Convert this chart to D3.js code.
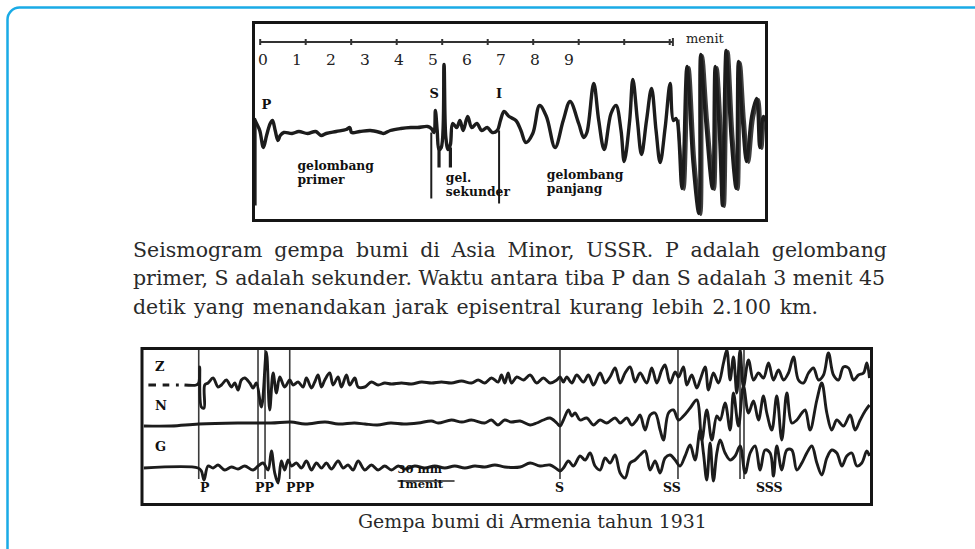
<!DOCTYPE html>
<html><head><meta charset="utf-8">
<script src="https://cdn.jsdelivr.net/npm/d3@7"></script>
<style>body{margin:0;background:#fff;}svg{display:block;}</style>
</head><body>
<svg id="c" width="975" height="549"></svg>
<script>
// ---------------- DATA ----------------
// Top seismogram (Asia Minor): time in minutes, amplitude in arbitrary units (up = +)
const scaleMinutes = [0,1,2,3,4,5,6,7,8,9];
const scaleLabels = ["0","1","2","3","4","5","6","7","8","9"];
const scaleEnd = 9.07;
const traceTop = [
 [-0.13,12],[-0.08,7],[-0.01,0],[0.07,-17],[0.14,-5],[0.22,7],[0.27,10],[0.33,0],[0.39,-10],[0.44,-5],
 [0.52,-2],[0.70,-3],[0.85,-1],[1.04,-3],[1.22,-1],[1.34,-5],[1.45,-3],[1.67,-1],[1.89,1],[1.97,3],
 [2.01,-2],[2.19,-1],[2.42,0],[2.64,-2],[2.71,-3],[2.86,0],[3.09,2],[3.31,3],[3.46,3],[3.68,4],
 [3.76,2],[3.82,-2],[3.85,20],[3.89,0],[3.93,-19],[3.98,-17],[4.04,66],[4.08,-7],[4.13,-19],[4.18,-14],
 [4.23,7],[4.32,3],[4.39,10],[4.46,0],[4.56,14],[4.65,3],[4.76,7],[4.87,0],[4.99,3],[5.10,-2],
 [5.21,0],[5.28,10],[5.36,19],[5.47,14],[5.62,10],[5.73,0],[5.84,-12],[5.99,-3],[6.14,25],[6.29,14],
 [6.48,-17],[6.66,10],[6.81,29],[7.00,7],[7.11,-7],[7.18,-2],[7.33,47],[7.44,10],[7.56,-19],[7.71,17],
 [7.82,25],[7.93,0],[8.00,-31],[8.12,10],[8.19,51],[8.29,10],[8.38,-24],[8.49,10],[8.60,42],[8.70,0],
 [8.79,-32],[8.90,3],[9.01,47],[9.08,10],[9.14,12],[9.27,-58],[9.38,64],[9.51,-31],[9.64,-83],[9.68,76],
 [9.79,10],[9.94,-58],[10.00,64],[10.10,-10],[10.16,-75],[10.24,80],[10.35,-7],[10.46,-58],[10.51,69],[10.60,10],
 [10.69,-31],[10.80,14],[10.91,32],[10.98,-17],[11.06,14],[11.17,3]
];
// vertical strokes on the top record: [time, from amp, to amp]
const topStrokes = [[-0.10,7,-75],[3.76,-2,-68],[5.25,0,-73]];
const topBars = [[3.93,-17,-37],[4.18,-17,-37]];
const topPhaseLabels = ["P","S","I"];
const topPhaseX = [0.03,3.72,5.18];
const topPhaseAmp = [22,33,33];
const topNotes = [["gelombang","primer"],["gel.","sekunder"],["gelombang","panjang"]];
const topNoteX = [0.82,4.08,6.30];
const topNoteAmp = [-39,-51,-48];

// Bottom seismogram (Armenia 1931): time in seconds from P arrival
const channels = ["Z","N","G"];
const zDashes = [[-53,-45],[-38,-31],[-24,-21]];
const traceZ = [
 [-15,0],[-2.5,0],[0,2],[1,18],[2.8,-22],[5.6,-23],[6.3,0],[9.8,2],[15.1,7],[20.3,-2],[23.9,0],[29.1,5],
 [34.4,-2],[37.9,2],[41.4,-5],[44.9,5],[48.4,7],[53.7,2],[57.2,-3],[60.7,2],[66,-22],[71.2,33],[74.7,-25],
 [78.3,12],[81.8,-8],[85.3,8],[90.5,-2],[95.8,5],[99.3,0],[104.6,3],[109.8,-2],[113.4,7],[118.6,-3],[122.1,3],
 [125.6,10],[129.2,-2],[132.7,5],[137.9,12],[141.4,0],[146.7,8],[150.2,-2],[155.5,10],[159,0],[164.3,7],
 [167.8,-2],[174.8,-2],[181.8,3],[188.8,0],[195.8,2],[202.9,1],[213.4,2],[223.9,1],[234.5,3],[245,2],
 [255.5,3],[266,2],[276.6,4],[287.1,2],[294.1,5],[301.1,2],[308.2,7],[315.2,3],[318.7,10],[322.2,2],
 [325.7,12],[329.2,2],[334.8,8],[341.8,5],[348.8,10],[355.8,2],[362.8,7],[369.9,2],[376.9,5],[380.4,8],
 [383.9,3],[387.4,8],[392.7,2],[397.9,10],[404.9,3],[410.2,10],[415.5,0],[422.5,12],[427.8,2],[433,8],
 [438.3,17],[443.6,2],[448.8,12],[454.1,18],[459.4,3],[464.6,12],[471.6,2],[476.9,17],[482.2,2],[487.4,15],
 [490.9,20],[496.2,2],[501.5,13],[505,8],[510.3,18],[513.8,0],[519,10],[524.3,-3],[527.8,5],[533.1,18],
 [536.6,-5],[541.8,12],[547.1,2],[552.4,22],[555.9,35],[559.4,5],[562.9,28],[566.4,-8],[569.9,35],[573.4,-2],
 [578.7,25],[584,5],[589.2,12],[594.5,7],[599.8,22],[605,5],[610.3,15],[615.6,5],[620.8,12],[626.1,28],
 [631.3,5],[636.6,2],[641.9,12],[647.1,17],[652.4,5],[657.7,10],[662.9,32],[668.2,10],[673.5,5],[678.7,18],
 [684,17],[689.3,5],[694.5,10],[699.8,12],[703.3,22],[706.1,7]
];
const traceN = [
 [-58,-2],[-29,-2],[0,0],[41,1],[76,1],[97,2],[112,0],[133,2],[147,0],[164,1],[175,0],[188,-1],[202,1],
 [216,0],[231,1],[245,3],[252,1],[266,4],[277,2],[287,4],[301,1],[308,4],[315,-1],[322,4],[329,2],[338.3,3],
 [348.8,-1],[355.8,1],[362.8,4],[369.9,6],[376.9,1],[380.4,-2],[383.9,4],[389.2,14],[392.7,8],[396.2,11],
 [401.4,4],[408.5,6],[415.5,-1],[422.5,4],[429.5,1],[438.3,6],[443.6,1],[450.6,6],[455.8,-1],[461.1,4],
 [464.6,9],[469.9,-6],[475.2,9],[480.4,11],[485.7,-6],[489.2,-16],[494.5,11],[499.7,14],[505,4],[510.3,8],
 [517.3,16],[524.3,24],[529.6,-16],[534.8,14],[540.1,-16],[545.4,8],[548.9,4],[554.1,21],[559.4,-6],[562.9,31],
 [568.2,-2],[573.4,38],[578.7,11],[584,23],[589.2,4],[594.5,28],[598,11],[603.3,-6],[608.5,28],[613.8,-16],
 [619.1,31],[624.3,1],[629.6,4],[634.9,11],[638.4,14],[643.6,-6],[650.7,24],[655.9,41],[661.2,11],[666.4,-6],
 [671.7,4],[678.7,-2],[685.7,9],[691,-6],[696.3,4],[701.5,13],[706.1,19]
];
const traceG = [
 [-58,0],[-0.7,0],[2.8,-3],[5.6,-12],[9.8,2],[15.1,0],[20.3,3],[27.4,-2],[34.4,1],[41.4,-1],[48.4,2],
 [57.2,-2],[62.5,2],[67.7,5],[73,-2],[76.5,17],[80,-5],[83.5,-15],[87,7],[90.5,-2],[94.1,8],[97.6,2],
 [102.8,5],[108.1,0],[113.4,7],[118.6,-2],[123.9,5],[129.2,0],[134.4,5],[139.7,-1],[146.7,7],[152,0],
 [157.2,3],[162.5,-2],[167.8,7],[174.8,-2],[181.8,3],[188.8,-2],[195.8,2],[202.9,-2],[209.9,2],[216.9,-1],
 [227.4,2],[238,0],[248.5,2],[259,0],[269.5,2],[280.1,0],[290.6,2],[301.1,1],[311.7,3],[322.2,1],[338.3,1],
 [348.8,5],[359.3,2],[369.9,3],[376.9,-1],[380.4,-3],[383.9,0],[389.2,7],[394.4,2],[401.4,12],[406.7,8],
 [412,15],[417.2,2],[422.5,-2],[427.8,10],[433,5],[438.3,13],[443.6,-5],[448.8,-10],[454.1,5],[459.4,8],
 [464.6,13],[469.9,17],[475.2,-2],[480.4,7],[485.7,-5],[490.9,10],[496.2,13],[501.5,8],[506.7,2],[512,12],
 [517.3,23],[522.5,8],[527.8,38],[531.3,15],[534.8,-12],[538.3,25],[541.8,-13],[545.4,15],[548.9,28],[554.1,15],
 [559.4,8],[564.7,12],[569.9,22],[575.2,-5],[580.5,15],[585.7,22],[591,-2],[596.2,18],[601.5,15],[605,-8],
 [608.5,22],[613.8,-2],[619.1,18],[624.3,18],[629.6,-2],[634.9,5],[640.1,15],[645.4,22],[650.7,5],[655.9,-7],
 [661.2,10],[666.4,18],[671.7,15],[677,2],[682.2,12],[687.5,15],[692.8,2],[698,5],[703.3,17],[706.1,12]
];
const phaseLines = [0,62.4,69.8,95.8,380.3,504.5,569.8,574];
const phaseNames = ["P","PP","PPP","S","SS","SSS"];
const phaseLabelSec = [1.4,59.3,91.9,375,488.7,586.6];
const scaleBarSec = [209.3,269.3];

const captionLines = [
 "Seismogram gempa bumi di Asia Minor, USSR. P adalah gelombang",
 "primer, S adalah sekunder. Waktu antara tiba P dan S adalah 3 menit 45",
 "detik yang menandakan jarak episentral kurang lebih 2.100 km."
];
const captionBottom = "Gempa bumi di Armenia tahun 1931";

// ---------------- DRAW ----------------
const svg = d3.select("#c");
const SERIF = "'DejaVu Serif', 'Liberation Serif', serif";
const INK = "#1c1c1c";

// outer cyan frame
svg.append("rect").attr("x",7.5).attr("y",7.5).attr("width",1000).attr("height",600)
  .attr("rx",12).attr("fill","none").attr("stroke","#1aabe6").attr("stroke-width",2.5);

// ---- top figure ----
const topBox = {x0:252, x1:768, y0:21, y1:222};
const xTop = d3.scaleLinear().domain([-0.18,11.16]).range([topBox.x0, topBox.x1]);
const yTop = d3.scaleLinear().domain([-80,80]).range([210.5,50.5]);

svg.append("clipPath").attr("id","clipTop").append("rect")
  .attr("x",topBox.x0+2).attr("y",topBox.y0+2).attr("width",topBox.x1-topBox.x0-4).attr("height",topBox.y1-topBox.y0-4);

const gTop = svg.append("g");
// time scale bar
const yBar = 42;
gTop.append("line").attr("x1",xTop(0)).attr("x2",xTop(scaleEnd)).attr("y1",yBar).attr("y2",yBar)
  .attr("stroke","#333").attr("stroke-width",2);
gTop.selectAll(".tk").data(scaleMinutes).join("line")
  .attr("x1",d=>xTop(d)).attr("x2",d=>xTop(d)).attr("y1",yBar-3).attr("y2",yBar+3)
  .attr("stroke","#333").attr("stroke-width",2);
gTop.append("line").attr("x1",xTop(scaleEnd)).attr("x2",xTop(scaleEnd)).attr("y1",yBar-4).attr("y2",yBar+4)
  .attr("stroke","#333").attr("stroke-width",2);
const xLab = d3.scalePoint().domain(scaleLabels).range([263,569]);
gTop.selectAll(".lb").data(scaleLabels).join("text")
  .attr("x",d=>xLab(d)).attr("y",65).attr("text-anchor","middle")
  .attr("font-family",SERIF).attr("font-size",15.5).attr("fill","#222").text(d=>d);
gTop.append("text").attr("x",686).attr("y",43).attr("font-family",SERIF).attr("font-size",13)
  .attr("fill","#222").text("menit");

// trace
const lineTop = d3.line().x(d=>xTop(d[0])).y(d=>yTop(d[1])).curve(d3.curveCatmullRom.alpha(0.5));
const gTr = gTop.append("g").attr("clip-path","url(#clipTop)");
gTr.append("path").attr("d",lineTop(traceTop)).attr("fill","none").attr("stroke",INK)
  .attr("stroke-width",3.4).attr("stroke-linejoin","round");
gTr.append("path").attr("d",lineTop(traceTop.filter(d=>d[0]>=9.1))).attr("fill","none").attr("stroke",INK)
  .attr("stroke-width",3).attr("transform","translate(2,1)").attr("opacity",0.85);
gTr.selectAll(".st").data(topStrokes).join("line")
  .attr("x1",d=>xTop(d[0])).attr("x2",d=>xTop(d[0])).attr("y1",d=>yTop(d[1])).attr("y2",d=>yTop(d[2]))
  .attr("stroke",INK).attr("stroke-width",2);
gTr.selectAll(".br").data(topBars).join("line")
  .attr("x1",d=>xTop(d[0])).attr("x2",d=>xTop(d[0])).attr("y1",d=>yTop(d[1])).attr("y2",d=>yTop(d[2]))
  .attr("stroke",INK).attr("stroke-width",3.2);

gTop.selectAll(".ph").data(topPhaseLabels).join("text")
  .attr("x",(d,i)=>xTop(topPhaseX[i])).attr("y",(d,i)=>yTop(topPhaseAmp[i]))
  .attr("font-family",SERIF).attr("font-weight","bold").attr("font-size",13).attr("fill","#111").text(d=>d);
topNotes.forEach((lines,i)=>{
  lines.forEach((t,j)=>{
    gTop.append("text").attr("x",xTop(topNoteX[i])).attr("y",yTop(topNoteAmp[i])+j*14.5)
      .attr("font-family",SERIF).attr("font-weight","bold").attr("font-size",12.3).attr("fill","#111").text(t);
  });
});
svg.append("rect").attr("x",topBox.x0+1.5).attr("y",topBox.y0+1.5).attr("width",topBox.x1-topBox.x0-3)
  .attr("height",topBox.y1-topBox.y0-3).attr("fill","none").attr("stroke","#151515").attr("stroke-width",3);

// ---- caption (justified) ----
const capX0 = 133, capRight = [887,885,818], capBase = [256.5,285,313.5];
const probe = svg.append("text").attr("font-family",SERIF).attr("font-size",20).text(captionLines[1]);
const natural = probe.node().getComputedTextLength();
probe.remove();
const capFs = 20 * (capRight[1]-capX0) / natural;
captionLines.forEach((line,li)=>{
  const words = line.split(" ");
  const g = svg.append("g");
  const nodes = words.map(w=>g.append("text").attr("font-family",SERIF).attr("font-size",capFs)
      .attr("fill","#2a2a2a").attr("y",capBase[li]).text(w));
  const widths = nodes.map(n=>n.node().getComputedTextLength());
  const sum = d3.sum(widths);
  const gap = (capRight[li]-capX0-sum)/(words.length-1);
  let x = capX0;
  nodes.forEach((n,i)=>{ n.attr("x",x); x += widths[i]+gap; });
});

// ---- bottom figure ----
const botBox = {x0:140.5, x1:873, y0:347, y1:506};
const xBot = d3.scaleLinear().domain([-61.3,709.8]).range([botBox.x0, botBox.x1]);
const yBase = d3.scaleOrdinal().domain(channels).range([385,424,468]);
const amp = d3.scaleLinear().domain([-40,40]).range([40,-40]);

svg.append("clipPath").attr("id","clipBot").append("rect")
  .attr("x",botBox.x0+3).attr("y",botBox.y0+3).attr("width",botBox.x1-botBox.x0-6).attr("height",botBox.y1-botBox.y0-6);
const gB = svg.append("g").attr("clip-path","url(#clipBot)");

// phase lines
gB.selectAll(".pl").data(phaseLines).join("line")
  .attr("x1",d=>xBot(d)).attr("x2",d=>xBot(d)).attr("y1",botBox.y0).attr("y2",479)
  .attr("stroke","#3a3a3a").attr("stroke-width",1.6);

const lineFor = ch => d3.line().x(d=>xBot(d[0])).y(d=>yBase(ch)+amp(d[1])).curve(d3.curveCatmullRom.alpha(0.5));
[["Z",traceZ],["N",traceN],["G",traceG]].forEach(([ch,data])=>{
  gB.append("path").attr("d",lineFor(ch)(data)).attr("fill","none").attr("stroke",INK)
    .attr("stroke-width",2.9).attr("stroke-linejoin","round");
});
gB.selectAll(".dz").data(zDashes).join("line")
  .attr("x1",d=>xBot(d[0])).attr("x2",d=>xBot(d[1])).attr("y1",yBase("Z")).attr("y2",yBase("Z"))
  .attr("stroke",INK).attr("stroke-width",2.9);

// channel labels
const chLabY = [371,410,451];
svg.selectAll(".cl").data(channels).join("text")
  .attr("x",155).attr("y",(d,i)=>chLabY[i])
  .attr("font-family",SERIF).attr("font-weight","bold").attr("font-size",13).attr("fill","#111").text(d=>d);
// phase labels
svg.selectAll(".pn").data(phaseNames).join("text")
  .attr("x",(d,i)=>xBot(phaseLabelSec[i])).attr("y",492)
  .attr("font-family",SERIF).attr("font-weight","bold").attr("font-size",12.5).attr("fill","#111").text(d=>d);
// scale bar
svg.append("text").attr("x",xBot(scaleBarSec[0])).attr("y",473).attr("font-family",SERIF)
  .attr("font-weight","bold").attr("font-size",11.5).attr("fill","#111").text("30 mm");
svg.append("line").attr("x1",xBot(scaleBarSec[0])).attr("x2",xBot(scaleBarSec[1])).attr("y1",481).attr("y2",481)
  .attr("stroke","#222").attr("stroke-width",1.5);
svg.append("text").attr("x",xBot(scaleBarSec[0])).attr("y",488).attr("font-family",SERIF)
  .attr("font-weight","bold").attr("font-size",11.5).attr("fill","#111").text("1menit");

svg.append("rect").attr("x",botBox.x0+1.5).attr("y",botBox.y0+1.5).attr("width",botBox.x1-botBox.x0-3)
  .attr("height",botBox.y1-botBox.y0-3).attr("fill","none").attr("stroke","#151515").attr("stroke-width",3);

// bottom caption (fit to reference width)
const cb = svg.append("text").attr("x",358).attr("y",528).attr("font-family",SERIF).attr("font-size",18)
  .attr("fill","#2a2a2a").text(captionBottom);
const cbw = cb.node().getComputedTextLength();
cb.attr("font-size",18*349/cbw);
</script>
</body></html>
